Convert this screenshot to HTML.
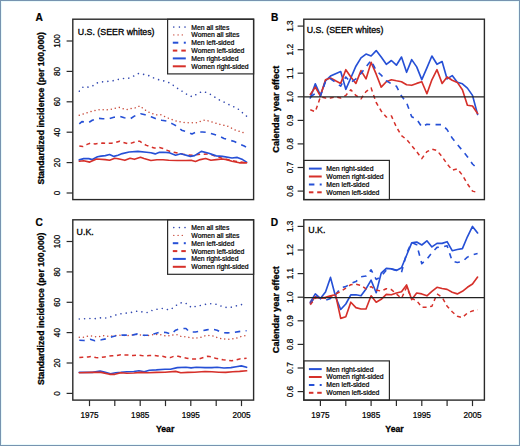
<!DOCTYPE html>
<html><head><meta charset="utf-8"><style>
html,body{margin:0;padding:0;background:#fff;}
body{width:520px;height:446px;overflow:hidden;}
svg{display:block;}
text{font-family:"Liberation Sans",sans-serif;fill:#000;}
.tk{font-size:8.2px;stroke:#000;stroke-width:0.22px;}
.ax{font-size:8.7px;font-weight:bold;stroke:#000;stroke-width:0.3px;}
.ax2{font-size:9.1px;font-weight:bold;stroke:#000;stroke-width:0.3px;}
.pl{font-size:10.2px;font-weight:bold;stroke:#000;stroke-width:0.2px;}
.tt{font-size:8.8px;stroke:#000;stroke-width:0.3px;}
.lg{font-size:6.85px;stroke:#000;stroke-width:0.22px;}
</style></head><body>
<svg width="520" height="446" viewBox="0 0 520 446">
<rect x="0" y="0" width="520" height="446" fill="#fff"/>
<defs><clipPath id="cA"><rect x="72.8" y="19.2" width="180.8" height="180.4"/></clipPath><clipPath id="cB"><rect x="303.8" y="19.2" width="180.6" height="180.4"/></clipPath><clipPath id="cC"><rect x="72.8" y="219.8" width="180.8" height="180.3"/></clipPath><clipPath id="cD"><rect x="303.8" y="219.8" width="180.6" height="180.3"/></clipPath></defs>
<g clip-path="url(#cA)">
<polyline points="79.3,91.2 83.3,86.8 87.5,87.2 92.0,86.4 96.6,83.0 101.8,82.0 107.4,81.4 112.7,80.8 117.9,79.5 123.1,78.5 128.6,78.2 133.5,76.1 138.5,73.5 143.9,74.4 149.0,75.7 154.2,78.2 159.4,79.9 164.8,81.1 170.0,83.0 174.7,86.3 179.4,89.8 184.2,92.4 188.5,95.6 192.9,96.8 197.7,93.4 202.4,91.5 207.6,92.8 212.8,95.7 217.1,98.9 222.3,101.2 227.1,103.8 232.3,106.1 237.3,108.3 241.3,111.8 246.6,116.2" fill="none" stroke="#3349b0" stroke-width="1.6" stroke-linejoin="round" stroke-linecap="round" stroke-dasharray="0.01 5.3"/>
<polyline points="79.3,115.2 83.7,113.8 88.0,112.4 92.3,111.2 96.6,110.0 101.0,109.6 105.3,110.0 109.6,109.6 113.9,108.6 119.1,107.3 123.4,108.9 127.8,109.6 132.1,108.3 136.4,107.7 139.9,105.8 143.3,108.6 147.7,111.8 152.9,113.8 157.2,115.0 160.9,114.7 165.2,116.8 169.5,118.7 173.8,120.2 178.2,121.6 182.5,122.2 186.0,122.8 190.3,122.9 194.6,122.8 198.1,122.5 201.5,120.8 205.3,119.9 209.3,121.3 213.6,122.5 218.0,123.8 222.3,125.1 226.6,125.7 230.1,127.3 234.4,129.8 238.7,131.1 243.0,132.5 246.6,133.7" fill="none" stroke="#c84a3a" stroke-width="1.5" stroke-linejoin="round" stroke-linecap="round" stroke-dasharray="0.01 4.1"/>
<polyline points="79.3,123.8 81.9,121.6 88.8,122.5 92.3,120.3 97.5,118.2 102.7,118.7 108.7,118.7 113.9,117.3 120.0,116.4 124.3,117.8 130.4,118.7 134.7,115.9 140.7,113.8 145.1,114.7 151.1,116.8 155.4,118.5 161.7,120.3 166.9,121.1 173.0,124.1 177.3,126.3 181.6,130.2 186.8,131.7 192.0,134.0 196.3,132.0 202.4,132.0 207.6,132.4 213.6,134.3 218.8,136.0 224.0,138.4 229.2,140.1 234.4,141.5 239.6,144.1 244.8,146.3 246.6,147.7" fill="none" stroke="#2650d6" stroke-width="1.6" stroke-linejoin="round" stroke-linecap="butt" stroke-dasharray="5.4 5.4"/>
<polyline points="79.3,145.9 82.8,146.5 87.1,144.4 90.6,143.0 94.9,143.9 98.4,143.4 102.7,143.0 107.0,143.3 111.3,143.3 115.7,142.5 119.7,141.2 123.2,142.4 128.0,143.8 131.4,143.1 136.2,141.5 139.6,141.2 143.5,143.8 146.5,145.4 151.3,147.1 154.3,148.0 159.5,147.6 163.0,148.5 167.4,150.4 170.8,151.7 175.1,152.6 178.6,153.3 183.0,154.2 188.0,155.0 193.0,155.3 200.3,154.2 203.5,154.2 208.8,153.8 211.9,154.8 216.2,156.4 219.3,157.4 225.0,159.1 232.0,160.6 235.2,161.2 240.5,162.1 246.6,162.8" fill="none" stroke="#d6302a" stroke-width="1.5" stroke-linejoin="round" stroke-linecap="butt" stroke-dasharray="4 3.6"/>
<polyline points="79.3,159.9 83.7,158.6 88.8,158.6 92.3,159.6 97.5,156.8 101.0,156.1 105.3,155.6 109.6,154.5 113.9,156.4 118.0,155.3 122.3,153.6 129.2,152.0 137.9,151.4 146.5,152.3 150.9,152.7 155.2,153.9 159.5,152.3 163.0,152.3 168.7,152.6 175.6,155.2 180.8,153.8 190.3,156.4 194.6,155.6 201.3,151.4 208.8,153.2 216.2,155.9 222.5,156.4 232.0,158.0 237.3,157.4 242.6,159.6 246.6,162.1" fill="none" stroke="#2650d6" stroke-width="1.65" stroke-linejoin="round" stroke-linecap="round"/>
<polyline points="79.3,161.2 83.7,160.8 89.7,162.1 96.6,159.0 105.3,159.6 109.6,160.2 114.8,158.2 118.0,158.8 124.9,160.3 130.1,158.3 134.4,159.3 140.5,157.3 144.0,158.5 150.9,160.5 156.9,159.7 163.0,159.7 168.7,160.2 177.3,160.5 186.0,160.5 191.1,160.2 195.5,161.5 200.3,159.6 205.6,158.5 210.9,160.2 216.2,159.6 222.5,159.0 226.7,159.6 232.0,161.2 239.4,162.8 246.6,162.8" fill="none" stroke="#d6302a" stroke-width="1.65" stroke-linejoin="round" stroke-linecap="round"/>
</g>
<g clip-path="url(#cC)">
<polyline points="79.3,319.0 84.5,318.7 90.6,318.4 95.8,318.7 101.0,317.8 107.0,318.1 111.3,316.5 116.5,314.7 122.1,313.5 127.8,313.0 133.0,312.1 138.1,310.9 143.0,312.1 147.7,312.6 152.9,310.0 158.0,309.1 163.5,308.3 169.0,310.0 173.5,307.7 177.8,304.2 182.5,302.3 187.3,303.9 191.5,307.7 196.3,306.1 201.9,305.3 207.1,303.9 212.8,303.6 218.3,304.8 223.5,307.1 228.9,307.7 234.4,306.5 239.6,304.8 245.1,304.2 246.6,304.2" fill="none" stroke="#3349b0" stroke-width="1.6" stroke-linejoin="round" stroke-linecap="round" stroke-dasharray="0.01 5.3"/>
<polyline points="79.3,337.3 83.7,337.2 88.0,336.1 91.9,336.1 95.8,336.7 100.1,336.4 104.4,335.5 108.3,336.3 112.0,336.0 117.0,335.4 122.0,335.2 127.0,335.7 132.0,334.9 137.0,334.5 142.0,335.2 147.0,335.7 152.0,334.8 157.0,334.5 160.9,334.8 165.2,335.8 169.5,335.8 173.5,334.8 177.3,334.8 181.6,336.7 186.0,336.7 190.3,337.7 194.6,338.3 198.9,337.7 203.3,336.7 205.8,335.4 210.2,335.4 214.5,336.4 218.8,338.3 223.1,338.9 227.5,339.3 231.8,339.0 236.1,338.3 240.4,336.7 244.8,335.8 246.6,335.7" fill="none" stroke="#c84a3a" stroke-width="1.5" stroke-linejoin="round" stroke-linecap="round" stroke-dasharray="0.01 4.1"/>
<polyline points="79.3,340.2 84.1,340.5 90.1,339.3 94.9,340.8 101.4,339.8 105.7,338.9 112.2,336.7 117.0,335.5 122.4,335.1 128.0,335.1 132.3,335.1 137.5,333.9 143.5,335.2 148.7,335.2 153.9,333.9 160.0,332.2 166.1,332.5 171.2,334.2 175.6,330.2 179.9,328.5 186.0,328.5 189.4,332.0 195.5,332.0 199.8,331.3 206.7,329.9 211.0,329.0 217.1,330.2 221.4,332.5 227.5,332.9 232.7,332.5 238.7,331.6 243.9,330.8 246.6,330.8" fill="none" stroke="#2650d6" stroke-width="1.6" stroke-linejoin="round" stroke-linecap="butt" stroke-dasharray="5.4 5.4"/>
<polyline points="79.3,357.6 82.8,357.2 88.0,356.9 91.4,356.5 95.8,357.6 99.2,357.7 104.4,356.9 107.9,356.3 112.2,355.7 116.5,355.6 120.8,354.7 124.3,355.0 129.5,355.1 133.0,355.6 138.1,355.1 141.6,355.6 145.9,355.7 149.4,355.6 154.6,355.6 158.0,355.9 162.6,356.3 166.1,357.2 170.4,357.6 173.8,356.3 178.2,356.3 181.6,357.2 186.8,358.2 190.3,358.9 195.5,358.9 198.9,358.9 204.1,357.2 207.6,356.3 211.9,356.9 215.4,358.2 219.7,358.9 223.1,359.8 228.3,360.3 231.8,360.7 236.1,359.8 239.6,358.9 243.9,358.6 246.6,358.2" fill="none" stroke="#d6302a" stroke-width="1.5" stroke-linejoin="round" stroke-linecap="butt" stroke-dasharray="4 3.6"/>
<polyline points="79.3,372.4 85.4,372.4 92.3,372.4 100.1,371.1 105.3,372.4 110.5,373.7 115.7,372.7 120.8,372.4 126.9,371.8 133.8,371.5 139.0,370.8 144.2,371.8 149.4,370.2 156.3,369.9 165.0,369.2 170.4,369.2 177.3,367.6 186.0,367.3 191.1,367.9 196.3,367.3 205.0,367.6 211.9,367.6 217.1,367.3 224.0,368.0 230.9,367.6 236.1,366.7 241.3,365.9 246.6,367.3" fill="none" stroke="#2650d6" stroke-width="1.65" stroke-linejoin="round" stroke-linecap="round"/>
<polyline points="79.3,372.7 92.3,372.4 101.0,372.4 109.6,374.3 114.8,374.3 120.8,372.7 126.9,373.3 133.8,373.0 140.7,372.4 147.7,372.7 156.3,372.4 165.0,372.3 175.6,371.4 180.8,372.7 187.7,372.4 194.6,372.3 205.0,371.5 211.9,371.8 218.8,372.3 225.7,372.4 232.7,371.8 239.6,371.4 246.6,370.8" fill="none" stroke="#d6302a" stroke-width="1.65" stroke-linejoin="round" stroke-linecap="round"/>
</g>
<g clip-path="url(#cB)">
<polyline points="310.3,98.0 315.3,83.8 320.4,95.4 325.5,80.8 330.5,76.1 335.6,73.7 340.7,71.6 345.8,89.3 350.8,78.0 355.9,66.2 361.0,57.9 366.0,54.1 371.1,56.0 376.2,50.6 381.2,57.0 386.3,64.3 391.4,60.5 396.4,65.2 401.5,57.0 406.6,72.3 411.7,59.6 416.7,66.9 421.8,79.6 426.9,67.8 431.9,56.0 437.0,64.3 442.1,61.5 447.1,78.9 452.2,75.6 457.3,82.2 462.4,83.8 467.4,88.1 472.5,95.4 477.6,114.5" fill="none" stroke="#2650d6" stroke-width="1.65" stroke-linejoin="round" stroke-linecap="round"/>
<polyline points="310.3,94.5 315.3,87.1 320.4,96.1 325.5,79.8 330.5,78.0 335.6,80.8 340.7,83.4 345.8,69.7 350.8,77.0 355.9,83.4 361.0,70.6 366.0,78.9 371.1,62.4 376.2,74.2 381.2,87.1 386.3,81.7 391.4,79.8 396.4,80.8 401.5,81.7 406.6,84.8 411.7,85.3 416.7,83.4 421.8,81.7 426.9,93.7 431.9,79.8 437.0,69.7 442.1,83.4 447.1,77.0 452.2,80.3 457.3,82.4 462.4,89.7 467.4,105.3 472.5,106.0 477.6,113.5" fill="none" stroke="#d6302a" stroke-width="1.65" stroke-linejoin="round" stroke-linecap="round"/>
<polyline points="310.3,97.0 315.3,93.5 320.4,96.1 325.5,81.5 330.5,78.9 335.6,82.4 340.7,86.2 345.8,77.0 350.8,82.4 355.9,78.9 361.0,73.5 366.0,66.9 371.1,60.5 376.2,70.6 381.2,75.1 386.3,80.8 391.4,83.8 396.4,86.2 401.5,96.1 406.6,102.7 411.7,116.8 416.7,119.2 421.8,127.0 426.9,124.2 431.9,124.6 437.0,124.6 442.1,124.6 447.1,129.6 452.2,138.1 457.3,144.4 462.4,150.5 467.4,156.7 472.5,164.0 477.6,168.9" fill="none" stroke="#2650d6" stroke-width="1.6" stroke-linejoin="round" stroke-linecap="butt" stroke-dasharray="5.4 5.4"/>
<polyline points="310.3,109.8 315.3,111.7 320.4,97.0 325.5,98.0 330.5,98.0 335.6,97.0 340.7,98.0 345.8,95.4 350.8,89.7 355.9,95.4 361.0,98.9 366.0,91.6 371.1,87.9 376.2,102.5 381.2,111.0 386.3,117.1 391.4,115.9 396.4,127.0 401.5,135.7 406.6,139.5 411.7,145.6 416.7,151.7 421.8,158.6 426.9,151.7 431.9,149.1 437.0,150.5 442.1,156.7 447.1,164.0 452.2,170.1 457.3,168.9 462.4,175.1 467.4,183.8 472.5,191.1 477.6,192.5" fill="none" stroke="#d6302a" stroke-width="1.5" stroke-linejoin="round" stroke-linecap="butt" stroke-dasharray="4 3.6"/>
</g>
<g clip-path="url(#cD)">
<polyline points="310.3,302.2 315.3,293.9 320.4,298.4 325.5,292.0 330.5,277.4 335.6,296.7 340.7,309.5 345.8,304.0 350.8,294.8 355.9,294.8 361.0,295.8 366.0,288.9 371.1,280.2 376.2,292.7 381.2,273.1 386.3,268.4 391.4,268.9 396.4,270.5 401.5,267.7 406.6,255.2 411.7,242.9 416.7,242.0 421.8,245.0 426.9,240.8 431.9,246.9 437.0,243.4 442.1,243.4 447.1,241.7 452.2,250.7 457.3,249.5 462.4,248.6 467.4,236.8 472.5,226.4 477.6,233.0" fill="none" stroke="#2650d6" stroke-width="1.65" stroke-linejoin="round" stroke-linecap="round"/>
<polyline points="310.3,303.1 315.3,296.7 320.4,298.4 325.5,297.4 330.5,295.8 335.6,294.8 340.7,318.4 345.8,316.8 350.8,302.2 355.9,307.6 361.0,309.0 366.0,309.0 371.1,295.8 376.2,302.2 381.2,299.3 386.3,294.4 391.4,294.8 396.4,293.0 401.5,291.8 406.6,284.9 411.7,299.6 416.7,293.0 421.8,293.9 426.9,295.8 431.9,291.3 437.0,287.3 442.1,288.5 447.1,289.4 452.2,292.2 457.3,293.9 462.4,291.3 467.4,287.3 472.5,284.0 477.6,277.1" fill="none" stroke="#d6302a" stroke-width="1.65" stroke-linejoin="round" stroke-linecap="round"/>
<polyline points="310.3,304.0 315.3,295.8 320.4,298.4 325.5,300.3 330.5,298.4 335.6,294.8 340.7,287.8 345.8,286.6 350.8,283.5 355.9,281.6 361.0,276.7 366.0,276.0 371.1,269.8 376.2,279.5 381.2,276.4 386.3,270.1 391.4,268.9 396.4,270.1 401.5,272.4 406.6,253.3 411.7,242.4 416.7,244.8 421.8,263.7 426.9,259.2 431.9,252.6 437.0,247.4 442.1,246.9 447.1,245.8 452.2,261.1 457.3,262.5 462.4,261.6 467.4,257.1 472.5,254.7 477.6,253.5" fill="none" stroke="#2650d6" stroke-width="1.6" stroke-linejoin="round" stroke-linecap="butt" stroke-dasharray="5.4 5.4"/>
<polyline points="310.3,304.8 315.3,298.4 320.4,296.7 325.5,298.4 330.5,296.7 335.6,293.9 340.7,291.5 345.8,288.2 350.8,284.7 355.9,284.2 361.0,285.4 366.0,288.9 371.1,286.6 376.2,290.1 381.2,291.1 386.3,288.7 391.4,289.6 396.4,293.9 401.5,298.4 406.6,287.3 411.7,298.4 416.7,300.7 421.8,307.3 426.9,307.3 431.9,306.2 437.0,293.9 442.1,297.2 447.1,306.2 452.2,311.8 457.3,316.3 462.4,317.5 467.4,313.0 472.5,310.9 477.6,309.7" fill="none" stroke="#d6302a" stroke-width="1.5" stroke-linejoin="round" stroke-linecap="butt" stroke-dasharray="4 3.6"/>
</g>
<line x1="303.8" x2="484.4" y1="96.8" y2="96.8" stroke="#222" stroke-width="1.35"/>
<line x1="303.8" x2="484.4" y1="297.5" y2="297.5" stroke="#222" stroke-width="1.25"/>
<rect x="167.6" y="19.2" width="86.0" height="54.7" fill="#fff" stroke="#2a2a2a" stroke-width="1.2"/>
<circle cx="173.8" cy="27.1" r="0.80" fill="#3349b0"/>
<circle cx="179.4" cy="27.1" r="0.80" fill="#3349b0"/>
<circle cx="185.0" cy="27.1" r="0.80" fill="#3349b0"/>
<text x="191.3" y="29.5" class="lg">Men all sites</text>
<circle cx="173.8" cy="34.9" r="0.70" fill="#c84a3a"/>
<circle cx="178.1" cy="34.9" r="0.70" fill="#c84a3a"/>
<circle cx="182.3" cy="34.9" r="0.70" fill="#c84a3a"/>
<text x="191.3" y="37.3" class="lg">Women all sites</text>
<line x1="172.8" x2="178.3" y1="42.7" y2="42.7" stroke="#2650d6" stroke-width="2"/>
<line x1="183.8" x2="185.8" y1="42.7" y2="42.7" stroke="#2650d6" stroke-width="2"/>
<text x="191.3" y="45.1" class="lg">Men left-sided</text>
<line x1="172.8" x2="177.3" y1="50.6" y2="50.6" stroke="#d6302a" stroke-width="2"/>
<line x1="181.3" x2="185.8" y1="50.6" y2="50.6" stroke="#d6302a" stroke-width="2"/>
<text x="191.3" y="53.0" class="lg">Women left-sided</text>
<line x1="172.8" x2="185.8" y1="58.4" y2="58.4" stroke="#2650d6" stroke-width="2"/>
<text x="191.3" y="60.8" class="lg">Men right-sided</text>
<line x1="172.8" x2="185.8" y1="66.3" y2="66.3" stroke="#d6302a" stroke-width="2"/>
<text x="191.3" y="68.7" class="lg">Women right-sided</text>
<rect x="167.6" y="219.8" width="86.0" height="54.5" fill="#fff" stroke="#2a2a2a" stroke-width="1.2"/>
<circle cx="173.8" cy="227.6" r="0.80" fill="#3349b0"/>
<circle cx="179.4" cy="227.6" r="0.80" fill="#3349b0"/>
<circle cx="185.0" cy="227.6" r="0.80" fill="#3349b0"/>
<text x="191.3" y="230.0" class="lg">Men all sites</text>
<circle cx="173.8" cy="235.4" r="0.70" fill="#c84a3a"/>
<circle cx="178.1" cy="235.4" r="0.70" fill="#c84a3a"/>
<circle cx="182.3" cy="235.4" r="0.70" fill="#c84a3a"/>
<text x="191.3" y="237.8" class="lg">Women all sites</text>
<line x1="172.8" x2="178.3" y1="243.2" y2="243.2" stroke="#2650d6" stroke-width="2"/>
<line x1="183.8" x2="185.8" y1="243.2" y2="243.2" stroke="#2650d6" stroke-width="2"/>
<text x="191.3" y="245.6" class="lg">Men left-sided</text>
<line x1="172.8" x2="177.3" y1="251.1" y2="251.1" stroke="#d6302a" stroke-width="2"/>
<line x1="181.3" x2="185.8" y1="251.1" y2="251.1" stroke="#d6302a" stroke-width="2"/>
<text x="191.3" y="253.5" class="lg">Women left-sided</text>
<line x1="172.8" x2="185.8" y1="258.9" y2="258.9" stroke="#2650d6" stroke-width="2"/>
<text x="191.3" y="261.3" class="lg">Men right-sided</text>
<line x1="172.8" x2="185.8" y1="266.8" y2="266.8" stroke="#d6302a" stroke-width="2"/>
<text x="191.3" y="269.2" class="lg">Women right-sided</text>
<rect x="303.8" y="160.4" width="85.6" height="39.2" fill="#fff" stroke="#2a2a2a" stroke-width="1.2"/>
<line x1="308.9" x2="321.7" y1="168.6" y2="168.6" stroke="#2650d6" stroke-width="2"/>
<text x="326.3" y="171.0" class="lg">Men right-sided</text>
<line x1="308.9" x2="321.7" y1="176.5" y2="176.5" stroke="#d6302a" stroke-width="2"/>
<text x="326.3" y="178.9" class="lg">Women right-sided</text>
<line x1="308.9" x2="314.4" y1="184.5" y2="184.5" stroke="#2650d6" stroke-width="2"/>
<line x1="319.7" x2="321.7" y1="184.5" y2="184.5" stroke="#2650d6" stroke-width="2"/>
<text x="326.3" y="186.9" class="lg">Men left-sided</text>
<line x1="308.9" x2="313.4" y1="192.3" y2="192.3" stroke="#d6302a" stroke-width="2"/>
<line x1="317.2" x2="321.7" y1="192.3" y2="192.3" stroke="#d6302a" stroke-width="2"/>
<text x="326.3" y="194.7" class="lg">Women left-sided</text>
<rect x="303.8" y="360.9" width="85.6" height="39.2" fill="#fff" stroke="#2a2a2a" stroke-width="1.2"/>
<line x1="308.9" x2="321.7" y1="369.1" y2="369.1" stroke="#2650d6" stroke-width="2"/>
<text x="326.3" y="371.5" class="lg">Men right-sided</text>
<line x1="308.9" x2="321.7" y1="377.0" y2="377.0" stroke="#d6302a" stroke-width="2"/>
<text x="326.3" y="379.4" class="lg">Women right-sided</text>
<line x1="308.9" x2="314.4" y1="385.0" y2="385.0" stroke="#2650d6" stroke-width="2"/>
<line x1="319.7" x2="321.7" y1="385.0" y2="385.0" stroke="#2650d6" stroke-width="2"/>
<text x="326.3" y="387.4" class="lg">Men left-sided</text>
<line x1="308.9" x2="313.4" y1="392.8" y2="392.8" stroke="#d6302a" stroke-width="2"/>
<line x1="317.2" x2="321.7" y1="392.8" y2="392.8" stroke="#d6302a" stroke-width="2"/>
<text x="326.3" y="395.2" class="lg">Women left-sided</text>
<rect x="72.8" y="19.2" width="180.8" height="180.4" fill="none" stroke="#2a2a2a" stroke-width="1.4"/>
<rect x="303.8" y="19.2" width="180.6" height="180.4" fill="none" stroke="#2a2a2a" stroke-width="1.4"/>
<rect x="72.8" y="219.8" width="180.8" height="180.3" fill="none" stroke="#2a2a2a" stroke-width="1.4"/>
<rect x="303.8" y="219.8" width="180.6" height="180.3" fill="none" stroke="#2a2a2a" stroke-width="1.4"/>
<line x1="66.6" x2="72.8" y1="193.0" y2="193.0" stroke="#2a2a2a" stroke-width="1.2"/>
<text class="tk" transform="translate(60.0,193.0) rotate(-90)" text-anchor="middle">0</text>
<line x1="66.6" x2="72.8" y1="162.6" y2="162.6" stroke="#2a2a2a" stroke-width="1.2"/>
<text class="tk" transform="translate(60.0,162.6) rotate(-90)" text-anchor="middle">20</text>
<line x1="66.6" x2="72.8" y1="132.2" y2="132.2" stroke="#2a2a2a" stroke-width="1.2"/>
<text class="tk" transform="translate(60.0,132.2) rotate(-90)" text-anchor="middle">40</text>
<line x1="66.6" x2="72.8" y1="101.8" y2="101.8" stroke="#2a2a2a" stroke-width="1.2"/>
<text class="tk" transform="translate(60.0,101.8) rotate(-90)" text-anchor="middle">60</text>
<line x1="66.6" x2="72.8" y1="71.4" y2="71.4" stroke="#2a2a2a" stroke-width="1.2"/>
<text class="tk" transform="translate(60.0,71.4) rotate(-90)" text-anchor="middle">80</text>
<line x1="66.6" x2="72.8" y1="41.0" y2="41.0" stroke="#2a2a2a" stroke-width="1.2"/>
<text class="tk" transform="translate(60.0,41.0) rotate(-90)" text-anchor="middle">100</text>
<line x1="66.6" x2="72.8" y1="393.4" y2="393.4" stroke="#2a2a2a" stroke-width="1.2"/>
<text class="tk" transform="translate(60.0,393.4) rotate(-90)" text-anchor="middle">0</text>
<line x1="66.6" x2="72.8" y1="363.0" y2="363.0" stroke="#2a2a2a" stroke-width="1.2"/>
<text class="tk" transform="translate(60.0,363.0) rotate(-90)" text-anchor="middle">20</text>
<line x1="66.6" x2="72.8" y1="332.6" y2="332.6" stroke="#2a2a2a" stroke-width="1.2"/>
<text class="tk" transform="translate(60.0,332.6) rotate(-90)" text-anchor="middle">40</text>
<line x1="66.6" x2="72.8" y1="302.3" y2="302.3" stroke="#2a2a2a" stroke-width="1.2"/>
<text class="tk" transform="translate(60.0,302.3) rotate(-90)" text-anchor="middle">60</text>
<line x1="66.6" x2="72.8" y1="271.9" y2="271.9" stroke="#2a2a2a" stroke-width="1.2"/>
<text class="tk" transform="translate(60.0,271.9) rotate(-90)" text-anchor="middle">80</text>
<line x1="66.6" x2="72.8" y1="241.5" y2="241.5" stroke="#2a2a2a" stroke-width="1.2"/>
<text class="tk" transform="translate(60.0,241.5) rotate(-90)" text-anchor="middle">100</text>
<line x1="297.6" x2="303.8" y1="191.1" y2="191.1" stroke="#2a2a2a" stroke-width="1.2"/>
<text class="tk" transform="translate(293.4,191.1) rotate(-90)" text-anchor="middle">0.6</text>
<line x1="297.6" x2="303.8" y1="167.5" y2="167.5" stroke="#2a2a2a" stroke-width="1.2"/>
<text class="tk" transform="translate(293.4,167.5) rotate(-90)" text-anchor="middle">0.7</text>
<line x1="297.6" x2="303.8" y1="143.9" y2="143.9" stroke="#2a2a2a" stroke-width="1.2"/>
<text class="tk" transform="translate(293.4,143.9) rotate(-90)" text-anchor="middle">0.8</text>
<line x1="297.6" x2="303.8" y1="120.4" y2="120.4" stroke="#2a2a2a" stroke-width="1.2"/>
<text class="tk" transform="translate(293.4,120.4) rotate(-90)" text-anchor="middle">0.9</text>
<line x1="297.6" x2="303.8" y1="96.8" y2="96.8" stroke="#2a2a2a" stroke-width="1.2"/>
<text class="tk" transform="translate(293.4,96.8) rotate(-90)" text-anchor="middle">1.0</text>
<line x1="297.6" x2="303.8" y1="73.2" y2="73.2" stroke="#2a2a2a" stroke-width="1.2"/>
<text class="tk" transform="translate(293.4,73.2) rotate(-90)" text-anchor="middle">1.1</text>
<line x1="297.6" x2="303.8" y1="49.7" y2="49.7" stroke="#2a2a2a" stroke-width="1.2"/>
<text class="tk" transform="translate(293.4,49.7) rotate(-90)" text-anchor="middle">1.2</text>
<line x1="297.6" x2="303.8" y1="26.1" y2="26.1" stroke="#2a2a2a" stroke-width="1.2"/>
<text class="tk" transform="translate(293.4,26.1) rotate(-90)" text-anchor="middle">1.3</text>
<line x1="297.6" x2="303.8" y1="391.6" y2="391.6" stroke="#2a2a2a" stroke-width="1.2"/>
<text class="tk" transform="translate(293.4,391.6) rotate(-90)" text-anchor="middle">0.6</text>
<line x1="297.6" x2="303.8" y1="368.0" y2="368.0" stroke="#2a2a2a" stroke-width="1.2"/>
<text class="tk" transform="translate(293.4,368.0) rotate(-90)" text-anchor="middle">0.7</text>
<line x1="297.6" x2="303.8" y1="344.4" y2="344.4" stroke="#2a2a2a" stroke-width="1.2"/>
<text class="tk" transform="translate(293.4,344.4) rotate(-90)" text-anchor="middle">0.8</text>
<line x1="297.6" x2="303.8" y1="320.8" y2="320.8" stroke="#2a2a2a" stroke-width="1.2"/>
<text class="tk" transform="translate(293.4,320.8) rotate(-90)" text-anchor="middle">0.9</text>
<line x1="297.6" x2="303.8" y1="297.2" y2="297.2" stroke="#2a2a2a" stroke-width="1.2"/>
<text class="tk" transform="translate(293.4,297.2) rotate(-90)" text-anchor="middle">1.0</text>
<line x1="297.6" x2="303.8" y1="273.6" y2="273.6" stroke="#2a2a2a" stroke-width="1.2"/>
<text class="tk" transform="translate(293.4,273.6) rotate(-90)" text-anchor="middle">1.1</text>
<line x1="297.6" x2="303.8" y1="250.0" y2="250.0" stroke="#2a2a2a" stroke-width="1.2"/>
<text class="tk" transform="translate(293.4,250.0) rotate(-90)" text-anchor="middle">1.2</text>
<line x1="297.6" x2="303.8" y1="226.4" y2="226.4" stroke="#2a2a2a" stroke-width="1.2"/>
<text class="tk" transform="translate(293.4,226.4) rotate(-90)" text-anchor="middle">1.3</text>
<line x1="89.5" x2="89.5" y1="400.1" y2="406.1" stroke="#2a2a2a" stroke-width="1.2"/>
<text class="tk" x="89.5" y="417.6" text-anchor="middle">1975</text>
<line x1="114.8" x2="114.8" y1="400.1" y2="406.1" stroke="#2a2a2a" stroke-width="1.2"/>
<line x1="140.2" x2="140.2" y1="400.1" y2="406.1" stroke="#2a2a2a" stroke-width="1.2"/>
<text class="tk" x="140.2" y="417.6" text-anchor="middle">1985</text>
<line x1="165.5" x2="165.5" y1="400.1" y2="406.1" stroke="#2a2a2a" stroke-width="1.2"/>
<line x1="190.8" x2="190.8" y1="400.1" y2="406.1" stroke="#2a2a2a" stroke-width="1.2"/>
<text class="tk" x="190.8" y="417.6" text-anchor="middle">1995</text>
<line x1="216.2" x2="216.2" y1="400.1" y2="406.1" stroke="#2a2a2a" stroke-width="1.2"/>
<line x1="241.5" x2="241.5" y1="400.1" y2="406.1" stroke="#2a2a2a" stroke-width="1.2"/>
<text class="tk" x="241.5" y="417.6" text-anchor="middle">2005</text>
<line x1="320.4" x2="320.4" y1="400.1" y2="406.1" stroke="#2a2a2a" stroke-width="1.2"/>
<text class="tk" x="320.4" y="417.6" text-anchor="middle">1975</text>
<line x1="345.8" x2="345.8" y1="400.1" y2="406.1" stroke="#2a2a2a" stroke-width="1.2"/>
<line x1="371.1" x2="371.1" y1="400.1" y2="406.1" stroke="#2a2a2a" stroke-width="1.2"/>
<text class="tk" x="371.1" y="417.6" text-anchor="middle">1985</text>
<line x1="396.4" x2="396.4" y1="400.1" y2="406.1" stroke="#2a2a2a" stroke-width="1.2"/>
<line x1="421.8" x2="421.8" y1="400.1" y2="406.1" stroke="#2a2a2a" stroke-width="1.2"/>
<text class="tk" x="421.8" y="417.6" text-anchor="middle">1995</text>
<line x1="447.1" x2="447.1" y1="400.1" y2="406.1" stroke="#2a2a2a" stroke-width="1.2"/>
<line x1="472.5" x2="472.5" y1="400.1" y2="406.1" stroke="#2a2a2a" stroke-width="1.2"/>
<text class="tk" x="472.5" y="417.6" text-anchor="middle">2005</text>
<text class="ax" transform="translate(43.6,108.3) rotate(-90)" text-anchor="middle">Standardized incidence (per 100,000)</text>
<text class="ax" transform="translate(43.6,308.8) rotate(-90)" text-anchor="middle">Standardized incidence (per 100,000)</text>
<text class="ax2" transform="translate(279.2,109.2) rotate(-90)" text-anchor="middle">Calendar year effect</text>
<text class="ax2" transform="translate(279.2,309.7) rotate(-90)" text-anchor="middle">Calendar year effect</text>
<text class="ax" x="165.1" y="432.1" text-anchor="middle">Year</text>
<text class="ax" x="394.5" y="432.1" text-anchor="middle">Year</text>
<text class="pl" x="35.5" y="20.8">A</text>
<text class="pl" x="270.9" y="20.9">B</text>
<text class="pl" x="35.4" y="225.5">C</text>
<text class="pl" x="270.7" y="225.9">D</text>
<text class="tt" x="77.8" y="34.7">U.S. (SEER whites)</text>
<text class="tt" x="306.7" y="32.7">U.S. (SEER whites)</text>
<text class="tt" x="76.6" y="234.8">U.K.</text>
<text class="tt" x="308.3" y="232.8">U.K.</text>
<rect x="0.5" y="0.5" width="519" height="445" fill="none" stroke="#7794b0" stroke-width="1"/>
<rect x="1.5" y="1.5" width="517" height="443" fill="none" stroke="#eafafc" stroke-width="1"/>
</svg>
</body></html>
